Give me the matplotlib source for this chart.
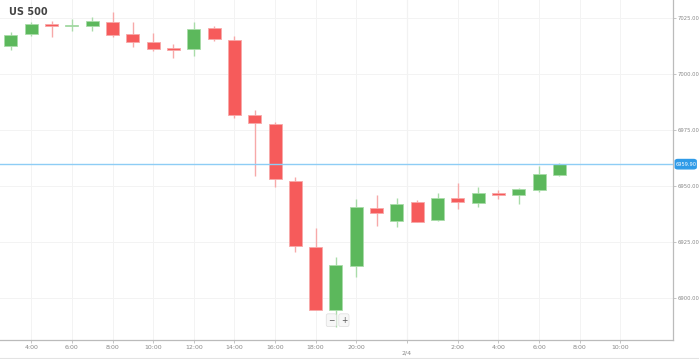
import numpy as np
import matplotlib.pyplot as plt
from matplotlib.patches import FancyBboxPatch

# hourly candles, left to right (index = slot on the time axis)
opens  = [7012.8, 7017.9, 7022.3, 7021.8, 7021.6, 7023.5, 7017.9, 7014.3, 7011.7, 7011.2,
          7020.5, 7015.3, 6981.8, 6978.0, 6952.2, 6922.7, 6894.7, 6914.6, 6940.4, 6934.5,
          6942.9, 6934.8, 6944.6, 6942.5, 6947.2, 6946.2, 6948.5, 6955.2]
highs  = [7018.9, 7023.2, 7023.7, 7024.6, 7025.7, 7027.7, 7023.3, 7018.3, 7013.5, 7023.2,
          7021.7, 7017.1, 6984.1, 6978.6, 6954.3, 6931.5, 6918.6, 6944.2, 6946.2, 6944.6,
          6943.9, 6946.9, 6951.3, 6949.6, 6948.3, 6949.1, 6959.2, 6960.2]
lows   = [7010.8, 7017.1, 7016.5, 7019.3, 7019.3, 7016.5, 7012.3, 7010.4, 7007.4, 7008.2,
          7015.0, 6980.7, 6954.7, 6949.6, 6920.7, 6894.6, 6887.3, 6909.4, 6932.3, 6931.8,
          6933.9, 6934.7, 6939.9, 6940.9, 6944.3, 6942.1, 6947.6, 6954.8]
closes = [7017.5, 7022.3, 7021.4, 7022.0, 7023.7, 7017.5, 7014.3, 7011.4, 7010.8, 7020.2,
          7015.6, 6981.8, 6978.3, 6953.1, 6923.3, 6894.7, 6914.7, 6940.9, 6938.3, 6942.0,
          6934.2, 6944.8, 6942.9, 6947.1, 6946.1, 6948.7, 6955.4, 6959.9]
current_price = 6959.9

tick_pos = [1, 3, 5, 7, 9, 11, 13, 15, 17, 19.5, 22, 24, 26, 28, 30]
tick_labels = ['4:00', '6:00', '8:00', '10:00', '12:00', '14:00', '16:00', '18:00', '20:00',
               '\n2/4', '2:00', '4:00', '6:00', '8:00', '10:00']
price_ticks = [6900, 6925, 6950, 6975, 7000, 7025]

up_body, up_wick = '#5cb85c', '#a9dca9'
dn_body, dn_wick = '#f65b5b', '#f7a9a9'

fig = plt.figure(figsize=(6.99, 3.59), dpi=100)
ax = fig.add_axes([0.0, 0.053, 0.963, 0.947])

x = np.arange(len(opens))
for i in x:
    o, h, l, c = opens[i], highs[i], lows[i], closes[i]
    up = c >= o
    ax.vlines(i, l, h, color=up_wick if up else dn_wick, lw=1.0, zorder=2)
    bottom = min(o, c)
    height = max(abs(c - o), 0.35)
    ax.bar(i, height, bottom=bottom, width=0.64,
           color=up_body if up else dn_body,
           edgecolor=up_wick if up else dn_wick, linewidth=0.6, zorder=3)

# current price line + label
ax.axhline(current_price, color='#8ecdf5', lw=1.0, zorder=4)

ax.set_xlim(-0.54, 32.6)
ax.set_ylim(6881.4, 7033.2)

ax.set_xticks(tick_pos)
ax.set_xticklabels(tick_labels, fontsize=4.5, color='#888888')
ax.set_yticks(price_ticks)
ax.set_yticklabels(['%.2f' % p for p in price_ticks], fontsize=3.8, color='#888888')
ax.yaxis.tick_right()
ax.tick_params(axis='both', length=2, width=0.6, color='#bbbbbb', pad=1.5)
ax.tick_params(axis='y', pad=1)

ax.grid(True, color='#f3f3f3', lw=0.7, zorder=0)
ax.axvline(19.5, color='#dddddd', lw=0.8, zorder=1)

for side in ['top', 'left']:
    ax.spines[side].set_visible(False)
for side in ['right', 'bottom']:
    ax.spines[side].set_color('#bbbbbb')
    ax.spines[side].set_linewidth(0.9)

ax.text(0.013, 0.965, 'US 500', transform=ax.transAxes, fontsize=7, fontweight='bold',
        color='#444444', va='center', ha='left')

# price tag on right axis
yfrac = (current_price - 6881.4) / (7033.2 - 6881.4)
fy = 0.053 + 0.947 * yfrac
fig.patches.append(FancyBboxPatch((0.968, fy - 0.011), 0.026, 0.022,
                                  boxstyle='round,pad=0.002,rounding_size=0.004',
                                  transform=fig.transFigure, facecolor='#2f9be8',
                                  edgecolor='#2f9be8', zorder=5))
fig.text(0.981, fy, '%.2f' % current_price, fontsize=3.6, color='white',
         ha='center', va='center', zorder=6)

# zoom buttons under the chart
for bx, sym in [(0.474, '−'), (0.492, '+')]:
    fig.text(bx, 0.108, sym, fontsize=5.5, color='#555555', ha='center', va='center',
             bbox=dict(boxstyle='round,pad=0.25', fc='#f7f7f7', ec='#dddddd', lw=0.5))

# thin frame along the bottom of the widget
fig.add_artist(plt.Line2D([0, 1], [0.004, 0.004], transform=fig.transFigure,
                          color='#e3e3e3', lw=0.8))

fig.savefig('out.png', dpi=100)
